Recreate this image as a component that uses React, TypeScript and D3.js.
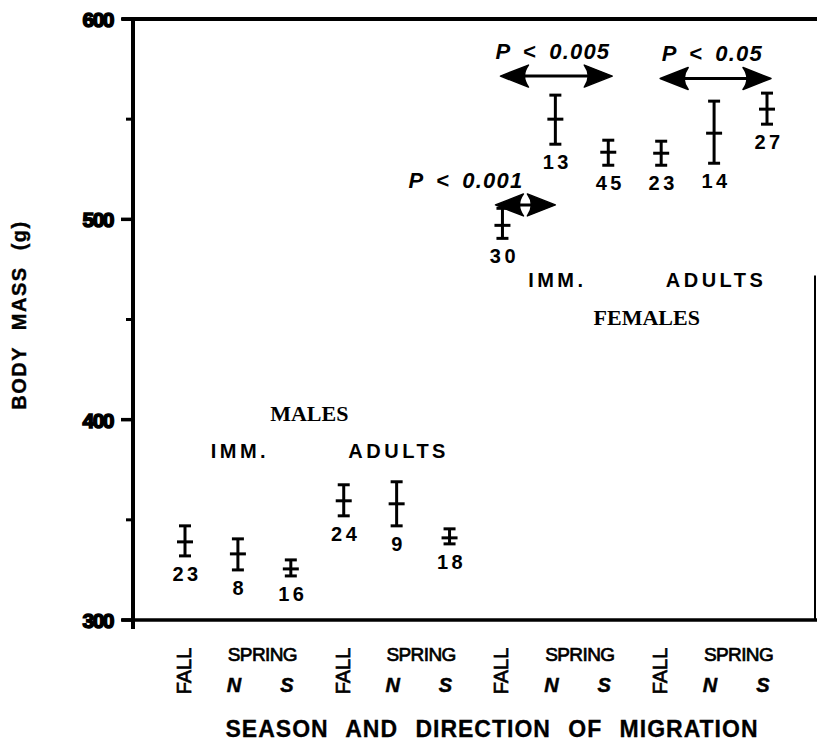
import React from 'react';
import * as d3 from 'd3';

// body mass (g) of migrants, one point per sex / age / season group
const sexLabels = ['MALES', 'FEMALES'];
const ageLabels = ['IMM.', 'ADULTS', 'IMM.', 'ADULTS'];
const seasonLabels = ['FALL', 'N', 'S', 'FALL', 'N', 'S', 'FALL', 'N', 'S', 'FALL', 'N', 'S'];
const sampleSizes = [23, 8, 16, 24, 9, 18, 30, 13, 45, 23, 14, 27];
const meanMass = [339, 333, 325.5, 359.5, 358, 341, 497, 550, 533.5, 533, 543, 555];
const upperMass = [347, 340.5, 330, 367.5, 369, 345.5, 505.5, 562, 539.5, 539, 559, 563];
const lowerMass = [332, 325, 322, 352, 347, 338, 490.5, 537.5, 527, 527, 528, 547.5];
const majorTicks = [300, 400, 500, 600];
const minorTicks = [350, 450, 550];

// significance arrows: between category indices, drawn at a mass level
const compFrom = [6, 9, 6];
const compTo = [8, 11, 7];
const compLevel = [571.5, 570.3, 507.2];
const compP = ['0.005', '0.05', '0.001'];

const W = 817;
const H = 745;
const sans = '"Liberation Sans", Arial, Helvetica, sans-serif';
const serif = '"Liberation Serif", "Times New Roman", serif';

const idx = d3.range(seasonLabels.length);
const x = d3.scalePoint<number>().domain(idx).range([185, 767]);
const y = d3.scaleLinear().domain([300, 600]).range([620, 19]);

// label placement tweaks for the arrows' text (px from the right end)
const compTextDx = [2, -4, -32];
const compArrowPad = [[-2, 4], [-1, 4], [-7, 0]];

function arrowHeads(x0: number, x1: number, yy: number) {
  const len = 28;
  const half = 11;
  const back = 20;
  const right = `M${x1},${yy} L${x1 - len},${yy - half} Q${x1 - back},${yy} ${x1 - len},${yy + half} Z`;
  const left = `M${x0},${yy} L${x0 + len},${yy - half} Q${x0 + back},${yy} ${x0 + len},${yy + half} Z`;
  return [left, right];
}

export default function App() {
  const groupCenters = [1, 4, 7, 10].map((i) => x(i) as number);
  const springCenters = [0, 3, 6, 9].map((i) => ((x(i + 1) as number) + (x(i + 2) as number)) / 2);

  return (
    <svg width={W} height={H} style={{ position: 'absolute', left: 0, top: 0, background: '#fff' }}>
      {/* frame */}
      <g stroke="#000" fill="none">
        <line x1={122} x2={W} y1={y(600)} y2={y(600)} strokeWidth={4} />
        <line x1={122} x2={W} y1={y(300)} y2={y(300)} strokeWidth={3.5} />
        <line x1={133} x2={133} y1={y(600) - 2} y2={y(300) + 9} strokeWidth={4} />
        <line x1={815} x2={815} y1={y(472)} y2={y(300)} strokeWidth={2} />
        {majorTicks.map((t) => (
          <line key={t} x1={121} x2={133} y1={y(t)} y2={y(t)} strokeWidth={3.5} />
        ))}
        {minorTicks.map((t) => (
          <line key={t} x1={126} x2={133} y1={y(t)} y2={y(t)} strokeWidth={3} />
        ))}
      </g>

      {/* y tick labels */}
      <g fontFamily={sans} fontWeight="bold" fontSize={21} textAnchor="end" fill="#000" stroke="#000" strokeWidth={1.5}>
        {majorTicks.map((t) => (
          <text key={t} x={113} y={y(t) + 8} letterSpacing={-1.5}>
            {t}
          </text>
        ))}
      </g>

      {/* y axis title */}
      <text
        transform={`translate(26, 315) rotate(-90)`}
        textAnchor="middle"
        fontFamily={sans}
        fontWeight="bold"
        fontSize={20}
        letterSpacing={1.5}
        wordSpacing={9}
        stroke="#000"
        strokeWidth={0.4}
      >
        BODY MASS (g)
      </text>

      {/* error bars */}
      <g stroke="#000" strokeWidth={3}>
        {idx.map((i) => {
          const cx = x(i) as number;
          return (
            <g key={i}>
              <line x1={cx} x2={cx} y1={y(upperMass[i])} y2={y(lowerMass[i])} />
              <line x1={cx - 6} x2={cx + 6} y1={y(upperMass[i])} y2={y(upperMass[i])} />
              <line x1={cx - 6} x2={cx + 6} y1={y(lowerMass[i])} y2={y(lowerMass[i])} />
              <line x1={cx - 8} x2={cx + 8} y1={y(meanMass[i])} y2={y(meanMass[i])} />
            </g>
          );
        })}
      </g>

      {/* sample sizes */}
      <g fontFamily={sans} fontWeight="bold" fontSize={20} textAnchor="middle" letterSpacing={3.5}>
        {idx.map((i) => (
          <text key={i} x={(x(i) as number) + 2} y={y(lowerMass[i]) + 25}>
            {sampleSizes[i]}
          </text>
        ))}
      </g>

      {/* significance arrows */}
      {compFrom.map((a, k) => {
        const x0 = (x(a) as number) + compArrowPad[k][0];
        const x1 = (x(compTo[k]) as number) + compArrowPad[k][1];
        const yy = y(compLevel[k]);
        const [lh, rh] = arrowHeads(x0, x1, yy);
        return (
          <g key={k}>
            <line x1={x0 + 10} x2={x1 - 10} y1={yy} y2={yy} stroke="#000" strokeWidth={3} />
            <path d={lh} fill="#000" stroke="#000" strokeWidth={1.5} strokeLinejoin="round" />
            <path d={rh} fill="#000" stroke="#000" strokeWidth={1.5} strokeLinejoin="round" />
            <text
              x={(x(compTo[k]) as number) + compTextDx[k]}
              y={yy - 17}
              textAnchor="end"
              fontFamily={sans}
              fontWeight="bold"
              fontStyle="italic"
              fontSize={22}
              letterSpacing={1.2}
              wordSpacing={5}
            >
              {`P < ${compP[k]}`}
            </text>
          </g>
        );
      })}

      {/* age group labels */}
      <g fontFamily={sans} fontWeight="bold" fontSize={20} textAnchor="middle" letterSpacing={3.5}>
        {ageLabels.map((lab, g) => (
          <text key={g} x={groupCenters[g] + 2} y={g < 2 ? y(381) : y(466.3)}>
            {lab}
          </text>
        ))}
      </g>

      {/* sex labels */}
      <g fontFamily={serif} fontWeight="bold" fontSize={22} textAnchor="middle">
        <text x={(groupCenters[0] + groupCenters[1]) / 2 - 8} y={y(399.5)}>
          {sexLabels[0]}
        </text>
        <text x={(groupCenters[2] + groupCenters[3]) / 2 + 12} y={y(447.4)}>
          {sexLabels[1]}
        </text>
      </g>

      {/* x category labels */}
      <g fontFamily={sans}>
        {idx.map((i) => {
          const cx = x(i) as number;
          if (seasonLabels[i] === 'FALL') {
            return (
              <text
                key={i}
                transform={`translate(${cx + 6}, 671) rotate(-90)`}
                textAnchor="middle"
                fontSize={20}
                stroke="#000"
                strokeWidth={0.7}
              >
                FALL
              </text>
            );
          }
          return (
            <text
              key={i}
              x={cx - 4}
              y={692}
              textAnchor="middle"
              fontSize={20}
              fontWeight="bold"
              fontStyle="italic"
              stroke="#000"
              strokeWidth={0.5}
            >
              {seasonLabels[i]}
            </text>
          );
        })}
        {springCenters.map((c, g) => (
          <text key={g} x={c - 2} y={661} textAnchor="middle" fontSize={19} letterSpacing={-0.6} stroke="#000" strokeWidth={0.7}>
            SPRING
          </text>
        ))}
      </g>

      {/* x axis title */}
      <text
        x={492}
        y={737}
        textAnchor="middle"
        fontFamily={sans}
        fontWeight="bold"
        fontSize={23}
        letterSpacing={1}
        wordSpacing={10}
        stroke="#000"
        strokeWidth={0.3}
      >
        SEASON AND DIRECTION OF MIGRATION
      </text>
    </svg>
  );
}
